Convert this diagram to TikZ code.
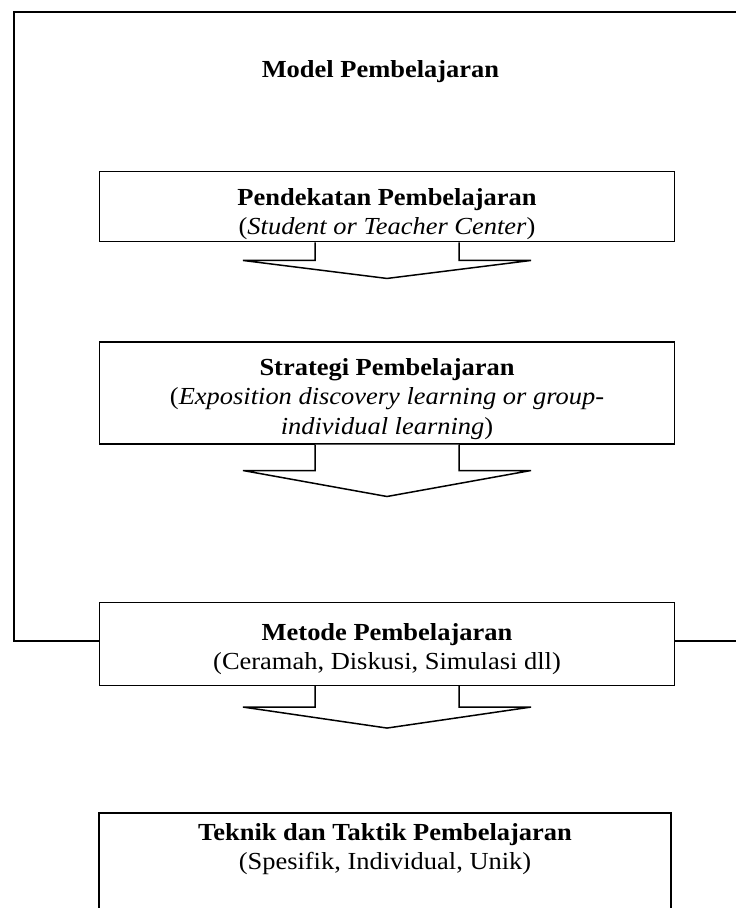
\documentclass[tikz,border=0pt]{standalone}
\usepackage{fontspec}
\setmainfont[FakeStretch=1.08]{Liberation Serif}
\usetikzlibrary{calc}
\usetikzlibrary{positioning}

\tikzset{
  box/.style={draw, minimum width=575pt, inner sep=0pt},
  lbl/.style={align=center, inner sep=0pt, anchor=north, font=\fontsize{24.5}{29.5}\selectfont},
}

\begin{document}
\begin{tikzpicture}[x=1pt, y=-1pt, line width=1.5pt]
  \useasboundingbox (0,0) rectangle (736,908);
  \clip (0,0) rectangle (736,908);

  \node[box, minimum height=70.4pt] (pendekatan) at (387,206.5) {};
  \node[box, minimum height=101.7pt] (strategi) at (387,392.9) {};
  \node[box, minimum height=82.6pt] (metode) at (387,644) {};
  \node[box, minimum width=572pt, minimum height=160pt] (teknik) at (385,893) {};

  % outer frame
  \draw (metode.west |- 0,641) -- (14,641) -- (14,12) -- (745,12);
  \draw (metode.east |- 0,641) -- (745,641);

  \node[lbl, anchor=base west] (model) at (261,77) {\textbf{Model Pembelajaran}};

  \node[lbl] (pendekatanT) at (387,187.5) {\textbf{Pendekatan Pembelajaran}\\(\textit{Student or Teacher Center})};
  \node[lbl] (strategiT) at (387,357.5) {\textbf{Strategi Pembelajaran}\\(\textit{Exposition discovery learning or group-}\\\textit{individual learning})};
  \node[lbl] (metodeT) at (387,622.5) {\textbf{Metode Pembelajaran}\\(Ceramah, Diskusi, Simulasi dll)};
  \node[lbl] (teknikT) at (385,822.5) {\textbf{Teknik dan Taktik Pembelajaran}\\(Spesifik, Individual, Unik)};

  % block arrows
  \foreach \b/\h/\d in {pendekatan/18/18, strategi/26/26, metode/21/21}{
    \draw[fill=white] ($(\b.south)+(-72,0)$) -- ++(0,\h) -- ++(-72,0) -- ++(144,\d)
      -- ++(144,-\d) -- ++(-72,0) -- ++(0,-\h);
  }
\end{tikzpicture}
\end{document}
